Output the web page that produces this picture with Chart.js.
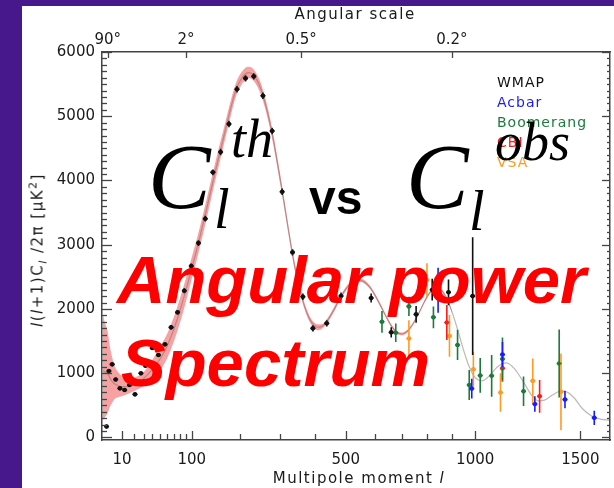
<!DOCTYPE html>
<html>
<head>
<meta charset="utf-8">
<script src="https://cdn.jsdelivr.net/npm/chart.js@4.4.0/dist/chart.umd.min.js"></script>
<style>
  body { margin:0; width:614px; height:488px; overflow:hidden; position:relative; background:#47188b; font-family:"DejaVu Sans", sans-serif; }
  #panel { position:absolute; left:22px; top:6px; width:592px; height:482px; background:#fff; }
  .t { position:absolute; white-space:nowrap; line-height:1; }
  .serif { font-family:"Liberation Serif", "Times New Roman", serif; font-style:italic; color:#000; }
  .red { font-family:"Liberation Sans", Arial, sans-serif; font-style:italic; font-weight:bold; color:#ff0000; font-size:67px; }
  .lab { font-size:15px; color:#1a1a1a; letter-spacing:1.5px; }
  .leg { font-size:14px; letter-spacing:1px; }
</style>
</head>
<body>
<div id="panel"><canvas id="chart" width="592" height="482"></canvas></div>

<div class="t lab" style="left:255px; top:7px; width:200px; text-align:center;">Angular scale</div>
<div class="t lab" style="left:259px; top:471px; width:200px; text-align:center;">Multipole moment <i>l</i></div>
<div class="t" style="left:38px; top:250px; font-size:15px; letter-spacing:1.5px; color:#1a1a1a; transform:translate(-50%,-50%) rotate(-90deg);"><i>l</i>(<i>l</i>+1)C<sub style="font-size:11px"><i>l</i></sub> /2π [μK<sup style="font-size:11px">2</sup>]</div>

<div id="legend"></div>

<div class="t serif" style="left:148px; top:129px; font-size:94px;">C</div>
<div class="t serif" style="left:214px; top:181px; font-size:56px;">l</div>
<div class="t serif" style="left:231px; top:112px; font-size:54px;">th</div>
<div class="t" style="left:309px; top:174px; font-size:48px; font-weight:bold; font-family:'Liberation Sans', Arial, sans-serif;">vs</div>
<div class="t serif" style="left:406px; top:129px; font-size:94px;">C</div>
<div class="t serif" style="left:469px; top:183px; font-size:56px;">l</div>
<div class="t serif" style="left:495px; top:115px; font-size:54px;">obs</div>
<div class="t red" style="left:117px; top:246px;">Angular power</div>
<div class="t red" style="left:121px; top:329px;">Spectrum</div>

<script>
// x axis: multipole l on a power-law scale
const X_POW = 0.608;
const L_MIN = 0.34;
const L_MAX = 1655;
const Y_MIN = -40;
const Y_MAX = 6000;

const xTickValues = [10, 100, 500, 1000, 1500];
const xMinorTicks = [20, 30, 40, 50, 60, 70, 80, 90, 200, 300, 400, 600, 700, 800, 900];
const topTickL = [2, 90, 360, 900];
const topTickLabels = ['90°', '2°', '0.5°', '0.2°'];
const yTickValues = [0, 1000, 2000, 3000, 4000, 5000, 6000];

const legendNames = ['WMAP', 'Acbar', 'Boomerang', 'CBI', 'VSA'];
const legendColors = ['#111111', '#1a1aff', '#1e7a3c', '#ff1a1a', '#ff9a22'];

// best-fit model
const theoryL = [0.5, 1, 2, 3, 4, 5, 7, 10, 15, 20, 30, 40, 50, 60, 70, 80, 90, 100, 110, 120, 130, 140, 150, 160, 170, 180, 190, 200, 210, 220, 230, 240, 250, 260, 270, 280, 290, 300, 310, 320, 330, 340, 350, 360, 370, 380, 390, 400, 410, 420, 440, 460, 480, 500, 520, 540, 560, 580, 600, 620, 640, 660, 680, 700, 720, 740, 760, 780, 800, 820, 840, 860, 880, 900, 920, 940, 960, 980, 1000, 1030, 1060, 1100, 1140, 1180, 1220, 1260, 1290, 1320, 1360, 1400, 1430, 1470, 1510, 1560, 1610, 1650];
const theoryD = [1040, 1020, 1000, 920, 870, 840, 810, 790, 795, 820, 920, 1060, 1220, 1420, 1680, 1980, 2300, 2640, 2960, 3300, 3640, 3980, 4300, 4600, 4900, 5180, 5420, 5560, 5650, 5680, 5650, 5560, 5420, 5220, 4980, 4700, 4380, 4040, 3700, 3350, 3010, 2700, 2440, 2220, 2040, 1900, 1800, 1740, 1715, 1720, 1820, 1980, 2160, 2310, 2410, 2450, 2430, 2350, 2220, 2060, 1890, 1740, 1640, 1610, 1650, 1750, 1890, 2050, 2200, 2300, 2330, 2280, 2150, 1960, 1730, 1480, 1240, 1050, 930, 880, 950, 1100, 1160, 1060, 860, 650, 570, 580, 660, 720, 710, 610, 450, 330, 280, 270];

// shaded band (up to l = 900)
const bandL = [0.5, 1, 2, 3, 4, 5, 7, 10, 15, 20, 30, 40, 50, 60, 70, 80, 90, 100, 110, 120, 130, 140, 150, 160, 170, 180, 190, 200, 210, 220, 230, 240, 250, 260, 270, 280, 290, 300, 310, 320, 330, 340, 350, 360, 370, 380, 390, 400, 410, 420, 440, 460, 480, 500, 520, 540, 560, 580, 600, 620, 640, 660, 680, 700, 720, 740, 760, 780, 800, 820, 840, 860, 880, 900];
const bandHi = [1930, 1800, 1650, 1400, 1250, 1130, 1030, 960, 920, 930, 1020, 1200, 1410, 1610, 1870, 2170, 2480, 2810, 3120, 3455, 3790, 4125, 4440, 4730, 5025, 5295, 5525, 5660, 5745, 5770, 5740, 5650, 5510, 5305, 5065, 4780, 4460, 4115, 3770, 3415, 3070, 2760, 2495, 2270, 2090, 1950, 1845, 1785, 1760, 1760, 1855, 2015, 2192, 2340, 2440, 2478, 2457, 2375, 2245, 2085, 1913, 1763, 1662, 1632, 1672, 1771, 1910, 2070, 2220, 2320, 2350, 2300, 2170, 1980];
const bandLo = [270, 310, 380, 480, 540, 590, 620, 640, 680, 720, 800, 900, 1040, 1230, 1490, 1790, 2120, 2470, 2800, 3145, 3490, 3835, 4160, 4470, 4775, 5065, 5315, 5460, 5555, 5590, 5560, 5470, 5330, 5135, 4895, 4620, 4300, 3965, 3630, 3285, 2950, 2640, 2385, 2170, 1990, 1850, 1755, 1695, 1670, 1680, 1785, 1945, 2128, 2280, 2380, 2422, 2403, 2325, 2195, 2035, 1867, 1717, 1618, 1588, 1628, 1729, 1870, 2030, 2180, 2280, 2310, 2260, 2130, 1940];

// measurements
const wmapL = [1.6, 2.5, 4, 5.9, 8.6, 12, 16, 21, 27, 32, 40, 48, 57, 66, 76, 87, 99, 112, 125, 140, 156, 174, 192, 212, 232, 255, 279, 306, 335, 365, 395, 438, 484, 534, 587, 660, 755, 819, 886, 989];
const wmapD = [170, 1034, 1138, 901, 764, 738, 816, 671, 998, 1115, 1392, 1283, 1449, 1714, 1947, 2284, 2668, 3026, 3405, 4127, 4443, 4879, 5419, 5590, 5621, 5319, 4770, 3825, 2881, 2190, 1698, 1776, 2201, 2480, 2170, 1636, 1916, 2300, 2259, 2200];
const wmapErr = [30, 30, 30, 30, 30, 30, 30, 30, 30, 30, 30, 30, 30, 35, 35, 40, 40, 45, 45, 45, 50, 50, 50, 50, 50, 50, 50, 50, 50, 50, 50, 50, 55, 60, 70, 80, 130, 170, 200, 915];

const acbarL = [843, 985, 1122, 1274, 1422, 1572];
const acbarD = [2290, 760, 1290, 520, 590, 305];
const acbarErr = [350, 155, 195, 120, 137, 112];

const boomL = [626, 677, 727, 824, 924, 974, 1022, 1073, 1122, 1220, 1393];
const boomD = [1800, 1630, 2040, 1870, 1440, 816, 965, 960, 1220, 720, 1150];
const boomErr = [170, 145, 150, 170, 235, 235, 270, 325, 335, 230, 530];

const cbiL = [879, 1122, 1297];
const cbiD = [1790, 1075, 640];
const cbiErr = [272, 208, 255];

const vsaL = [727, 798, 890, 992, 1113, 1264, 1402];
const vsaD = [1540, 2450, 1580, 1060, 700, 880, 710];
const vsaErr = [285, 260, 325, 272, 300, 350, 597];

// legend
const legendBox = document.getElementById('legend');
legendNames.forEach((name, i) => {
  const d = document.createElement('div');
  d.className = 't leg';
  d.style.left = '497px';
  d.style.top = (75 + i * 20) + 'px';
  d.style.color = legendColors[i];
  d.textContent = name;
  legendBox.appendChild(d);
});

class PowerScale extends Chart.Scale {
  static id = 'power';
  static defaults = {};
  determineDataLimits() {
    this.min = this.options.min;
    this.max = this.options.max;
  }
  buildTicks() { return []; }
  configure() {
    super.configure();
    this._start = Math.pow(this.min, X_POW);
    this._range = Math.pow(this.max, X_POW) - this._start;
  }
  getPixelForValue(v) {
    return this.getPixelForDecimal((Math.pow(v, X_POW) - this._start) / this._range);
  }
  getValueForPixel(p) {
    return Math.pow(this._start + this.getDecimalForPixel(p) * this._range, 1 / X_POW);
  }
}
Chart.register(PowerScale);

const pts = (ls, ds) => ls.map((l, i) => ({x: l, y: ds[i]}));

const pointSets = [
  {l: vsaL, d: vsaD, e: vsaErr, color: legendColors[4]},
  {l: cbiL, d: cbiD, e: cbiErr, color: legendColors[3]},
  {l: boomL, d: boomD, e: boomErr, color: legendColors[2]},
  {l: acbarL, d: acbarD, e: acbarErr, color: legendColors[1]},
  {l: wmapL, d: wmapD, e: wmapErr, color: legendColors[0]}
];

const errorBars = {
  id: 'errorBars',
  afterDatasetsDraw(chart) {
    const {ctx, chartArea: a, scales: {x, y}} = chart;
    ctx.save();
    ctx.beginPath();
    ctx.rect(a.left, a.top, a.right - a.left, a.bottom - a.top);
    ctx.clip();
    ctx.lineWidth = 1.6;
    pointSets.forEach(s => {
      ctx.strokeStyle = s.color;
      s.l.forEach((l, i) => {
        const px = x.getPixelForValue(l);
        const py = y.getPixelForValue(s.d[i]);
        ctx.beginPath();
        ctx.moveTo(px, y.getPixelForValue(s.d[i] - s.e[i]));
        ctx.lineTo(px, y.getPixelForValue(s.d[i] + s.e[i]));
        ctx.moveTo(px - 2.5, py);
        ctx.lineTo(px + 2.5, py);
        ctx.stroke();
      });
    });
    ctx.restore();
  }
};

const inwardTicks = {
  id: 'inwardTicks',
  afterDraw(chart) {
    const {ctx, chartArea: a, scales: {x, y}} = chart;
    const seg = (x1, y1, x2, y2) => { ctx.beginPath(); ctx.moveTo(x1, y1); ctx.lineTo(x2, y2); ctx.stroke(); };
    ctx.save();
    ctx.strokeStyle = '#444';
    ctx.lineWidth = 1.3;
    xTickValues.forEach(l => { const px = Math.round(x.getPixelForValue(l)) + 0.5; seg(px, a.bottom, px, a.bottom - 9); });
    xMinorTicks.forEach(l => { const px = Math.round(x.getPixelForValue(l)) + 0.5; seg(px, a.bottom, px, a.bottom - 6); });
    topTickL.forEach(l => { const px = Math.round(x.getPixelForValue(l)) + 0.5; seg(px, a.top, px, a.top + 6); });
    for (let v = 0; v <= Y_MAX; v += 100) {
      const py = Math.round(y.getPixelForValue(v)) + 0.5;
      const major = v % 1000 === 0;
      seg(a.left, py, a.left + (major ? 10 : 5), py);
      seg(a.right, py, a.right - (major ? 8 : 3), py);
    }
    ctx.restore();
  }
};

const tickFont = {family: 'DejaVu Sans', size: 15};
const axisBorder = {display: true, color: '#444', width: 1.5};

const datasets = [
  {data: pts(bandL, bandHi), borderWidth: 0, borderColor: 'transparent', pointRadius: 0, fill: false, cubicInterpolationMode: 'monotone', order: 9},
  {data: pts(bandL, bandLo), borderWidth: 0, borderColor: 'transparent', pointRadius: 0, fill: '-1', backgroundColor: 'rgb(247,162,162)', cubicInterpolationMode: 'monotone', order: 8},
  {data: pts(theoryL, theoryD), borderColor: 'rgba(110,100,100,0.45)', borderWidth: 1.2, pointRadius: 0, fill: false, cubicInterpolationMode: 'monotone', order: 7}
];
pointSets.forEach((s, i) => {
  datasets.push({
    data: pts(s.l, s.d), showLine: false, pointRadius: 2.3, pointBorderWidth: 0,
    pointBackgroundColor: s.color, backgroundColor: s.color, borderColor: s.color, order: 5 - i
  });
});

new Chart(document.getElementById('chart'), {
  type: 'line',
  data: {datasets},
  options: {
    responsive: false,
    animation: false,
    devicePixelRatio: 1,
    layout: {padding: 0},
    plugins: {legend: {display: false}, tooltip: {enabled: false}},
    scales: {
      x: {
        type: 'power', position: 'bottom', min: L_MIN, max: L_MAX,
        grid: {display: false, drawTicks: false}, border: axisBorder,
        ticks: {autoSkip: false, maxRotation: 0, padding: 11, color: '#1a1a1a', font: tickFont, callback: v => String(v)},
        afterBuildTicks: s => { s.ticks = xTickValues.map(v => ({value: v})); },
        afterFit: s => { s.height = 48; }
      },
      xTop: {
        type: 'power', position: 'top', min: L_MIN, max: L_MAX,
        grid: {display: false, drawTicks: false}, border: axisBorder,
        ticks: {autoSkip: false, maxRotation: 0, padding: 3, color: '#1a1a1a', font: tickFont, callback: (v, i) => topTickLabels[i]},
        afterBuildTicks: s => { s.ticks = topTickL.map(v => ({value: v})); },
        afterFit: s => { s.height = 46; }
      },
      y: {
        type: 'linear', position: 'left', min: Y_MIN, max: Y_MAX,
        grid: {display: false, drawTicks: false}, border: axisBorder,
        ticks: {padding: 7, color: '#1a1a1a', font: tickFont, callback: v => String(v)},
        afterBuildTicks: s => { s.ticks = yTickValues.map(v => ({value: v})); },
        afterFit: s => { s.width = 80; }
      },
      yRight: {
        type: 'linear', position: 'right', min: Y_MIN, max: Y_MAX,
        grid: {display: false, drawTicks: false}, border: axisBorder,
        ticks: {display: false},
        afterFit: s => { s.width = 3; }
      }
    }
  },
  plugins: [errorBars, inwardTicks]
});
</script>
</body>
</html>
